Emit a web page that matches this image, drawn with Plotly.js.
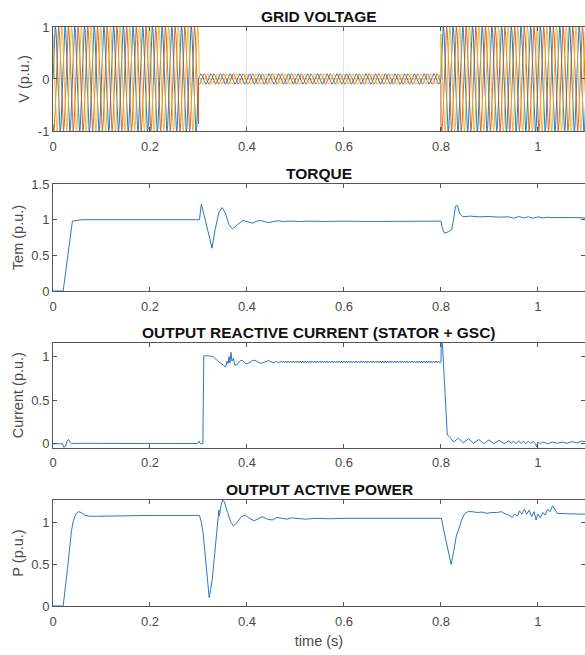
<!DOCTYPE html>
<html>
<head>
<meta charset="utf-8">
<script src="https://cdn.plot.ly/plotly-3.0.1.min.js"></script>
<style>html,body{margin:0;padding:0;background:#fff;}#chart{width:585px;height:655px;}</style>
</head>
<body>
<div id="chart"></div>
<script>
// ---------- Grid voltage (three-phase sine, amplitude per time segment) ----------
const vFreq = 50;                 // Hz
const vSegTimes = [0, 0.3, 0.8, 1.1];
const vSegAmps = [1.0, 0.1, 1.0];
const vPhaseDeg = [0, -120, 120];
const vColors = ['#0072BD', '#D95319', '#EDB120'];

// ---------- Torque ----------
const torqueT = [0, 0.021, 0.04, 0.05, 0.06, 0.1, 0.2, 0.302, 0.306, 0.31, 0.316, 0.322, 0.328, 0.334, 0.342, 0.349, 0.356, 0.363, 0.37, 0.38, 0.392, 0.402, 0.412, 0.42, 0.428, 0.437, 0.446, 0.455, 0.465, 0.475, 0.49, 0.51, 0.53, 0.56, 0.6, 0.65, 0.7, 0.75, 0.8, 0.802, 0.807, 0.815, 0.822, 0.826, 0.83, 0.834, 0.839, 0.845, 0.86, 0.88, 0.9, 0.92, 0.94, 0.95, 0.96, 0.97, 0.98, 0.99, 1.0, 1.01, 1.02, 1.03, 1.05, 1.07, 1.097];
const torqueY = [0, 0, 0.98, 0.99, 1.0, 1.0, 1.0, 1.0, 1.22, 1.1, 0.92, 0.75, 0.6, 0.85, 1.1, 1.17, 1.08, 0.93, 0.87, 0.93, 0.99, 0.97, 0.95, 0.98, 0.99, 0.97, 0.96, 0.975, 0.985, 0.975, 0.98, 0.975, 0.98, 0.975, 0.98, 0.975, 0.98, 0.98, 0.98, 0.9, 0.81, 0.83, 0.86, 1.0, 1.19, 1.2, 1.08, 1.04, 1.05, 1.04, 1.045, 1.035, 1.04, 1.02, 1.045, 1.025, 1.04, 1.02, 1.04, 1.025, 1.035, 1.03, 1.035, 1.03, 1.025];

// ---------- Output reactive current ----------
// transient after the dip start
const iqT_a = [0, 0.02, 0.022, 0.026, 0.029, 0.032, 0.035, 0.038, 0.05, 0.1, 0.2, 0.298, 0.301, 0.304, 0.309, 0.311, 0.32, 0.33, 0.34, 0.35, 0.356, 0.359, 0.361, 0.363, 0.365, 0.367, 0.369, 0.372, 0.375, 0.38, 0.385, 0.39, 0.395, 0.4, 0.405, 0.41, 0.415, 0.42, 0.425, 0.43, 0.435, 0.44, 0.445, 0.45, 0.455, 0.46, 0.465, 0.47];
const iqY_a = [0, 0, -0.04, -0.03, 0.03, 0.05, 0.02, 0.0, 0.005, 0.005, 0.003, 0.003, 0.03, 0.0, 0.0, 1.01, 1.01, 1.0, 0.95, 0.9, 0.88, 0.95, 0.92, 1.0, 0.93, 1.05, 0.95, 0.98, 0.9, 0.91, 0.95, 0.96, 0.93, 0.915, 0.935, 0.95, 0.96, 0.95, 0.93, 0.925, 0.935, 0.945, 0.955, 0.94, 0.93, 0.945, 0.93, 0.95];
// ripple during the dip
const iqT_r = [
 0.4725,0.475,0.4775,0.48,0.4825,0.485,0.4875,0.49,0.4925,0.495,0.4975,0.5,
 0.5025,0.505,0.5075,0.51,0.5125,0.515,0.5175,0.52,0.5225,0.525,0.5275,0.53,
 0.5325,0.535,0.5375,0.54,0.5425,0.545,0.5475,0.55,0.5525,0.555,0.5575,0.56,
 0.5625,0.565,0.5675,0.57,0.5725,0.575,0.5775,0.58,0.5825,0.585,0.5875,0.59,
 0.5925,0.595,0.5975,0.6,0.6025,0.605,0.6075,0.61,0.6125,0.615,0.6175,0.62,
 0.6225,0.625,0.6275,0.63,0.6325,0.635,0.6375,0.64,0.6425,0.645,0.6475,0.65,
 0.6525,0.655,0.6575,0.66,0.6625,0.665,0.6675,0.67,0.6725,0.675,0.6775,0.68,
 0.6825,0.685,0.6875,0.69,0.6925,0.695,0.6975,0.7,0.7025,0.705,0.7075,0.71,
 0.7125,0.715,0.7175,0.72,0.7225,0.725,0.7275,0.73,0.7325,0.735,0.7375,0.74,
 0.7425,0.745,0.7475,0.75,0.7525,0.755,0.7575,0.76,0.7625,0.765,0.7675,0.77,
 0.7725,0.775,0.7775,0.78,0.7825,0.785,0.7875,0.79,0.7925,0.795,0.7975];
const iqY_r = [
 0.93,0.95,0.93,0.95,0.93,0.95,0.93,0.95,0.93,0.95,0.93,0.95,
 0.93,0.95,0.93,0.95,0.93,0.95,0.93,0.95,0.93,0.95,0.93,0.95,
 0.93,0.95,0.93,0.95,0.93,0.95,0.93,0.95,0.93,0.95,0.93,0.95,
 0.93,0.95,0.93,0.95,0.93,0.95,0.93,0.95,0.93,0.95,0.93,0.95,
 0.93,0.95,0.93,0.95,0.93,0.95,0.93,0.95,0.93,0.95,0.93,0.95,
 0.93,0.95,0.93,0.95,0.93,0.95,0.93,0.95,0.93,0.95,0.93,0.95,
 0.93,0.95,0.93,0.95,0.93,0.95,0.93,0.95,0.93,0.95,0.93,0.95,
 0.93,0.95,0.93,0.95,0.93,0.95,0.93,0.95,0.93,0.95,0.93,0.95,
 0.93,0.95,0.93,0.95,0.93,0.95,0.93,0.95,0.93,0.95,0.93,0.95,
 0.93,0.95,0.93,0.95,0.93,0.95,0.93,0.95,0.93,0.95,0.93,0.95,
 0.93,0.95,0.93,0.95,0.93,0.95,0.93,0.95,0.93,0.95,0.93];
// recovery
const iqT_b = [0.8, 0.801, 0.803, 0.813, 0.818, 0.826, 0.836, 0.846, 0.857, 0.867, 0.878, 0.888, 0.899, 0.909, 0.92, 0.93, 0.94, 0.945, 0.95, 0.955, 0.96, 0.965, 0.97, 0.975, 0.98, 0.985, 0.99, 0.995, 0.997, 1.0, 1.005, 1.01, 1.02, 1.03, 1.04, 1.05, 1.06, 1.07, 1.08, 1.09, 1.097];
const iqY_b = [0.94, 1.25, 1.15, 0.1, 0.08, 0.02, 0.065, 0.01, 0.06, 0.005, 0.05, 0.0, 0.045, 0.0, 0.04, 0.0, 0.035, 0.005, 0.03, 0.0, 0.035, 0.005, 0.03, 0.0, 0.03, 0.005, 0.025, 0.0, -0.035, 0.02, 0.0, 0.02, 0.0, 0.02, 0.005, 0.02, 0.005, 0.025, 0.01, 0.03, 0.025];

// ---------- Output active power ----------
const pT = [0, 0.021, 0.03, 0.038, 0.042, 0.047, 0.052, 0.058, 0.065, 0.075, 0.09, 0.12, 0.2, 0.302, 0.306, 0.31, 0.315, 0.319, 0.322, 0.325, 0.328, 0.333, 0.338, 0.341, 0.342, 0.343, 0.347, 0.35, 0.353, 0.36, 0.367, 0.372, 0.38, 0.388, 0.396, 0.405, 0.415, 0.425, 0.432, 0.442, 0.452, 0.462, 0.472, 0.482, 0.492, 0.5, 0.52, 0.54, 0.57, 0.6, 0.65, 0.7, 0.75, 0.801, 0.806, 0.812, 0.817, 0.821, 0.826, 0.832, 0.836, 0.842, 0.848, 0.855, 0.865, 0.875, 0.885, 0.895, 0.905, 0.915, 0.925, 0.93, 0.94, 0.947, 0.952, 0.958, 0.962, 0.967, 0.972, 0.977, 0.982, 0.987, 0.992, 0.996, 1.0, 1.005, 1.01, 1.015, 1.02, 1.025, 1.03, 1.035, 1.04, 1.06, 1.08, 1.097];
const pY = [0, 0, 0.45, 0.9, 1.02, 1.1, 1.13, 1.12, 1.09, 1.075, 1.075, 1.08, 1.085, 1.085, 1.0, 0.85, 0.55, 0.25, 0.1, 0.2, 0.3, 0.6, 0.9, 1.0, 1.15, 1.08, 1.22, 1.27, 1.25, 1.12, 1.0, 0.96, 1.0, 1.07, 1.09, 1.05, 1.02, 1.05, 1.07, 1.04, 1.03, 1.06, 1.05, 1.04, 1.055, 1.05, 1.04, 1.05, 1.045, 1.05, 1.05, 1.05, 1.05, 1.05, 0.9, 0.75, 0.6, 0.5, 0.65, 0.85, 0.91, 1.02, 1.1, 1.13, 1.13, 1.12, 1.125, 1.11, 1.12, 1.12, 1.13, 1.11, 1.09, 1.06, 1.1, 1.08, 1.14, 1.1, 1.16, 1.1, 1.15, 1.07, 1.13, 1.03, 1.1, 1.06, 1.12, 1.09, 1.16, 1.13, 1.2, 1.15, 1.11, 1.105, 1.105, 1.1];

// ---------- Tick labels ----------
const xTickVals = [0, 0.2, 0.4, 0.6, 0.8, 1];
const xTickText = ['0', '0.2', '0.4', '0.6', '0.8', '1'];

const iqT = iqT_a.concat(iqT_r, iqT_b);
const iqY = iqY_a.concat(iqY_r, iqY_b);

// build voltage traces
function voltagePhase(k) {
  const xs = [], ys = [];
  const dt = 0.0005;
  for (let s = 0; s < vSegAmps.length; s++) {
    const t0 = vSegTimes[s], t1 = vSegTimes[s + 1];
    for (let t = t0; t <= t1 + 1e-9; t += dt) {
      xs.push(t);
      ys.push(vSegAmps[s] * Math.sin(2 * Math.PI * vFreq * t + vPhaseDeg[k] * Math.PI / 180));
    }
  }
  return {xs, ys};
}

const lineBlue = '#2a78bf';
const traces = [];
for (let k = 0; k < 3; k++) {
  const v = voltagePhase(k);
  traces.push({x: v.xs, y: v.ys, type: 'scatter', mode: 'lines', xaxis: 'x', yaxis: 'y',
    line: {color: vColors[k], width: 0.9}, hoverinfo: 'skip'});
}
traces.push({x: torqueT, y: torqueY, type: 'scatter', mode: 'lines', xaxis: 'x2', yaxis: 'y2', line: {color: lineBlue, width: 1}});
traces.push({x: iqT, y: iqY, type: 'scatter', mode: 'lines', xaxis: 'x3', yaxis: 'y3', line: {color: lineBlue, width: 1}});
traces.push({x: pT, y: pY, type: 'scatter', mode: 'lines', xaxis: 'x4', yaxis: 'y4', line: {color: lineBlue, width: 1}});

const axColor = '#555555';
const txtColor = '#4a4a4a';
const fontFam = 'Liberation Sans, Arial, Helvetica, sans-serif';

function xAx(anchor, grid, title) {
  const a = {
    anchor: anchor, domain: [0, 1], range: [0, 1.097],
    tickvals: xTickVals, ticktext: xTickText,
    ticks: 'inside', ticklen: 4, tickcolor: axColor, tickwidth: 1,
    showline: true, linecolor: axColor, linewidth: 1, mirror: 'ticks',
    zeroline: false, showgrid: grid, gridcolor: '#e3e3e3', gridwidth: 1,
    tickfont: {size: 13, color: txtColor, family: fontFam},
    ticklabelstandoff: 3,
    fixedrange: true
  };
  if (title) a.title = {text: title, font: {size: 14.5, color: txtColor, family: fontFam}, standoff: 8};
  return a;
}
function yAx(anchor, dom, range, tv, tt, title, grid) {
  return {
    anchor: anchor, domain: dom, range: range,
    tickvals: tv, ticktext: tt,
    ticks: 'inside', ticklen: 4, tickcolor: axColor, tickwidth: 1,
    showline: true, linecolor: axColor, linewidth: 1, mirror: 'ticks',
    zeroline: false, showgrid: grid, gridcolor: '#e3e3e3',
    tickfont: {size: 13, color: txtColor, family: fontFam},
    title: {text: title, font: {size: 14.5, color: txtColor, family: fontFam}, standoff: 4},
    fixedrange: true
  };
}

const dom1 = [0.8204, 1.0], dom2 = [0.5440, 0.7288], dom3 = [0.2734, 0.4547], dom4 = [0.0, 0.1831];

function titleAnn(text, top) {
  return {text: '<b>' + text + '</b>', xref: 'paper', yref: 'paper', x: 0.5, y: top,
    xanchor: 'center', yanchor: 'bottom', yshift: 0, showarrow: false,
    font: {size: 15.5, color: '#111', family: fontFam}};
}

const layout = {
  width: 585, height: 655,
  margin: {l: 53, r: 0, t: 27, b: 49},
  paper_bgcolor: '#ffffff', plot_bgcolor: '#ffffff',
  showlegend: false,
  font: {family: fontFam, size: 13, color: txtColor},
  xaxis: xAx('y', true),
  yaxis: yAx('x', dom1, [-1, 1], [-1, 0, 1], ['-1', '0', '1'], 'V (p.u.)', true),
  xaxis2: xAx('y2', false),
  yaxis2: yAx('x2', dom2, [0, 1.5], [0, 0.5, 1, 1.5], ['0', '0.5', '1', '1.5'], 'Tem (p.u.)', false),
  xaxis3: xAx('y3', false),
  yaxis3: yAx('x3', dom3, [-0.045, 1.16], [0, 0.5, 1], ['0', '0.5', '1'], 'Current (p.u.)', false),
  xaxis4: xAx('y4', false, 'time (s)'),
  yaxis4: yAx('x4', dom4, [0, 1.27], [0, 0.5, 1], ['0', '0.5', '1'], 'P (p.u.)', false),
  annotations: [
    titleAnn('GRID VOLTAGE', dom1[1]),
    titleAnn('TORQUE', dom2[1]),
    titleAnn('OUTPUT REACTIVE CURRENT (STATOR + GSC)', dom3[1]),
    titleAnn('OUTPUT ACTIVE POWER', dom4[1])
  ]
};

Plotly.newPlot('chart', traces, layout, {displayModeBar: false, staticPlot: true});
</script>
</body>
</html>
